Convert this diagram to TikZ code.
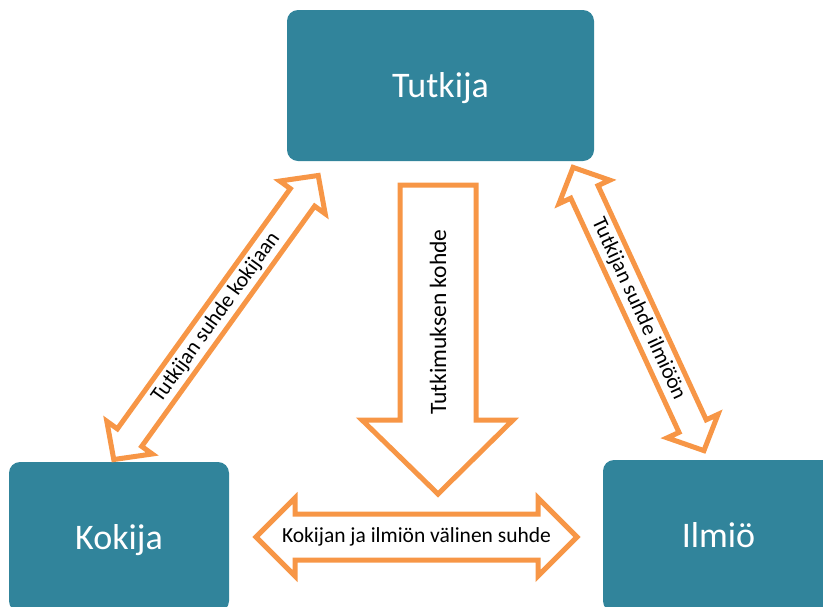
\documentclass[tikz,border=0pt]{standalone}
\usepackage{fontspec}
\setmainfont{Carlito}
\definecolor{teal}{RGB}{49,132,155}
\definecolor{orng}{RGB}{247,150,70}
\newcommand\dblarrow[7]{% center, angle, halflength, shaft half, head half, head length, name
  \begin{scope}[shift={(#1)},rotate=#2]
    \draw[blockarrow] (-#3,0) -- (-#3+#6,#5) -- (-#3+#6,#4) -- (#3-#6,#4) -- (#3-#6,#5) -- (#3,0)
      -- (#3-#6,-#5) -- (#3-#6,-#4) -- (-#3+#6,-#4) -- (-#3+#6,-#5) -- cycle;
    \coordinate (#7) at (0,0);
  \end{scope}}
\begin{document}
\begin{tikzpicture}[x=1pt,y=-1pt,
  box/.style={fill=teal,rounded corners=11pt,inner sep=0pt},
  boxtext/.style={text=white,anchor=base,inner sep=0pt,font=\fontsize{36}{40}\selectfont},
  blockarrow/.style={draw=orng,fill=white,line width=5pt,line join=miter},
  lbl/.style={inner sep=0pt,font=\fontsize{21.5}{24}\selectfont}]
\useasboundingbox (0,0) rectangle (823,606);
\begin{scope}
\clip (0,0) rectangle (823,606);
% boxes
\fill[box] (287,10) rectangle (594,161);
\node[boxtext] (tutkija) at (440.5,97) {Tutkija};
\fill[box] (9,462) rectangle (229,612);
\node[boxtext] (kokija) at (119,549) {Kokija};
\fill[box] (603,460) rectangle (835,612);
\node[boxtext] (ilmio) at (718.5,547) {Ilmiö};
\end{scope}
% down arrow
\draw[blockarrow] (400,185) -- (476,185) -- (476,420) -- (513,420) -- (438,494) -- (362,420) -- (400,420) -- cycle;
\node[lbl,rotate=90,font=\fontsize{23.5}{26}\selectfont] (kohde) at (438,322) {Tutkimuksen kohde};
% bottom double arrow
\draw[blockarrow] (256,537) -- (295,498) -- (295,514) -- (538,514) -- (538,498) -- (577,537) -- (538,576) -- (538,560) -- (295,560) -- (295,576) -- cycle;
\node[lbl] (valinen) at (416.5,537) {Kokijan ja ilmiön välinen suhde};
% diagonal arrows
\dblarrow{216,317.5}{54.25}{175}{15}{28}{27}{lc}
\node[lbl,rotate=54.25] (kokijaan) at (lc) {Tutkijan suhde kokijaan};
\dblarrow{638.5,309}{-65.2}{156}{15}{28}{27}{rc}
\node[lbl,rotate=-65.2] (ilmioon) at (rc) {Tutkijan suhde ilmiöön};
\end{tikzpicture}
\end{document}
